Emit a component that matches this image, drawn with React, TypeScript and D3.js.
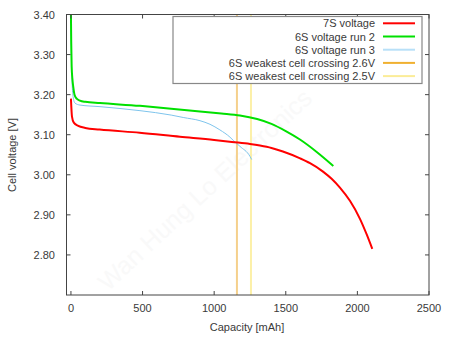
import React from "react";
import * as d3 from "d3";

const xTicks = [0, 500, 1000, 1500, 2000, 2500];
const yTicks = [2.8, 2.9, 3.0, 3.1, 3.2, 3.3, 3.4];

const s7Cap = [0, 7, 20, 51, 100, 200, 480, 761, 1000, 1124, 1250, 1320, 1400, 1480, 1600, 1669, 1760, 1820, 1878, 1948, 2018, 2065, 2104];
const s7V = [3.19, 3.146, 3.13, 3.122, 3.117, 3.113, 3.105, 3.095, 3.087, 3.082, 3.077, 3.073, 3.067, 3.058, 3.041, 3.029, 3.008, 2.99, 2.968, 2.935, 2.89, 2.851, 2.815];

const r2Cap = [0, 2, 5, 10, 16, 25, 40, 63, 100, 203, 482, 700, 901, 1050, 1180, 1300, 1400, 1500, 1599, 1716, 1832];
const r2V = [3.4, 3.33, 3.27, 3.24, 3.22, 3.2, 3.19, 3.185, 3.182, 3.179, 3.172, 3.165, 3.158, 3.153, 3.148, 3.139, 3.127, 3.109, 3.088, 3.057, 3.022];

const r3Cap = [0, 3, 8, 15, 28, 63, 203, 482, 700, 784, 901, 971, 1040, 1110, 1133, 1180, 1250, 1262];
const r3V = [3.4, 3.3, 3.23, 3.195, 3.179, 3.174, 3.17, 3.16, 3.149, 3.143, 3.135, 3.126, 3.112, 3.094, 3.086, 3.071, 3.046, 3.038];

const cross26 = 1159;
const cross25 = 1257;

const legendLabels = [
  "7S voltage",
  "6S voltage run 2",
  "6S voltage run 3",
  "6S weakest cell crossing 2.6V",
  "6S weakest cell crossing 2.5V",
];
const legendColors = ["#ff0000", "#00e000", "#b8e0f8", "#f0b030", "#fbec98"];

export default function App() {
  const W = 450, H = 338;
  const left = 66.5, right = 429, top = 14.5, bottom = 295;
  const x = d3.scaleLinear().domain([-31, 2500]).range([left, right]);
  const y = d3.scaleLinear().domain([2.7, 3.4]).range([bottom, top]);
  const mk = (cap: number[], v: number[]) =>
    d3.line<number>().x((_, i) => x(cap[i])).y((_, i) => y(v[i])).curve(d3.curveMonotoneX)(v) || "";
  const font = "'Liberation Sans', Arial, sans-serif";
  const tc = "#3a3a3a";
  const legY = [23.3, 36.5, 49.7, 62.9, 76.1];
  return (
    <svg width={W} height={H} style={{ position: "absolute", left: 0, top: 0, background: "#fff" }} fontFamily={font}>
      <rect x={0} y={0} width={W} height={H} fill="#fff" />
      <defs>
        <clipPath id="plot">
          <rect x={left} y={top} width={right - left} height={bottom - top} />
        </clipPath>
      </defs>
      <text
        x={0}
        y={0}
        transform={`translate(108,292) rotate(-43)`}
        fontSize={25}
        fill="#f9f9f9"
      >
        Wan Hung Lo Electronics
      </text>
      <g clipPath="url(#plot)">
        <line x1={x(cross26)} x2={x(cross26)} y1={top} y2={bottom} stroke="#f5d08c" strokeWidth={2} />
        <line x1={x(cross25)} x2={x(cross25)} y1={top} y2={bottom} stroke="#fcf0a8" strokeWidth={2} />
        <path d={mk(r3Cap, r3V)} fill="none" stroke="#7ec4ec" strokeWidth={1} />
        <path d={mk(r2Cap, r2V)} fill="none" stroke="#00e000" strokeWidth={2} />
        <path d={mk(s7Cap, s7V)} fill="none" stroke="#ff0000" strokeWidth={2} />
      </g>
      <rect x={left} y={top} width={right - left} height={bottom - top} fill="none" stroke="#444" strokeWidth={1} />
      {xTicks.map((t) => (
        <g key={"x" + t}>
          <line x1={x(t)} x2={x(t)} y1={bottom} y2={bottom - 4} stroke="#444" />
          <line x1={x(t)} x2={x(t)} y1={top} y2={top + 4} stroke="#444" />
          <text x={x(t)} y={312} fontSize={11} fill={tc} textAnchor="middle">{t}</text>
        </g>
      ))}
      {yTicks.map((t) => (
        <g key={"y" + t}>
          <line x1={left} x2={left + 4} y1={y(t)} y2={y(t)} stroke="#444" />
          <line x1={right} x2={right - 4} y1={y(t)} y2={y(t)} stroke="#444" />
          <text x={55} y={y(t) + 4} fontSize={11} fill={tc} textAnchor="end">{t.toFixed(2)}</text>
        </g>
      ))}
      <text x={247} y={331} fontSize={11} fill={tc} textAnchor="middle">Capacity [mAh]</text>
      <text transform="translate(16,155) rotate(-90)" fontSize={11} fill={tc} textAnchor="middle">Cell voltage [V]</text>
      <rect x={173} y={16.5} width={249} height={67} fill="#fff" stroke="#888" strokeWidth={1.2} />
      {legendLabels.map((l, i) => (
        <g key={l}>
          <text x={375} y={legY[i] + 4} fontSize={11} fill={tc} textAnchor="end">{l}</text>
          <line x1={383} x2={415} y1={legY[i]} y2={legY[i]} stroke={legendColors[i]} strokeWidth={2} />
        </g>
      ))}
    </svg>
  );
}
